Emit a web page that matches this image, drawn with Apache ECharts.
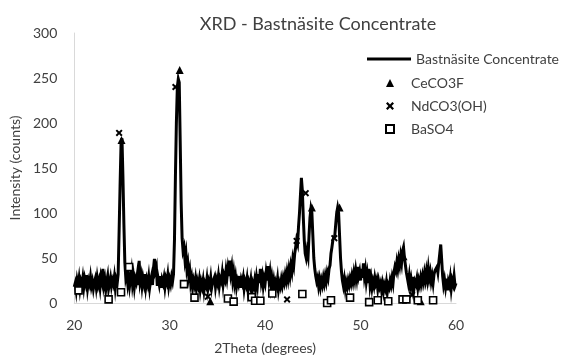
<!DOCTYPE html>
<html>
<head>
<meta charset="utf-8">
<title>XRD - Bastnäsite Concentrate</title>
<script src="https://cdn.jsdelivr.net/npm/echarts@6/dist/echarts.min.js"></script>
<style>
  html, body { margin: 0; padding: 0; background: #fff; }
  #chart { width: 570px; height: 360px; }
</style>
</head>
<body>
<div id="chart"></div>
<script>
// scan grid: 20.0 .. 60.0 deg, 0.1 deg step
const scanStart = 20;
const scanStep = 0.1;

// intensity (counts), one value per step
const intensity = [
  18, 22, 14, 25, 19, 27, 16, 24, 20, 28,   // 20
  18, 27, 22, 31, 17, 25, 21, 29, 19, 24,   // 21
  16, 23, 27, 18, 28, 20, 25, 17, 29, 24,   // 22
  38, 20, 26, 15, 24, 30, 16, 22, 28, 19,   // 23
  25, 21, 29, 17, 26, 22, 32, 80, 130, 176, // 24
  183, 140, 88, 45, 28, 33, 22, 30, 19, 27, // 25
  35, 21, 29, 18, 27, 23, 31, 20, 47, 24,   // 26
  30, 19, 28, 22, 32, 18, 26, 21, 29, 17,   // 27
  25, 30, 20, 38, 49, 36, 40, 19, 27, 21,   // 28
  30, 17, 26, 22, 28, 18, 27, 23, 31, 19,   // 29
  26, 21, 29, 24, 32, 70, 140, 200, 240, 249, // 30
  245, 180, 112, 72, 58, 62, 48, 55, 38, 44, // 31
  30, 36, 22, 28, 17, 25, 20, 27, 16, 24,   // 32
  19, 26, 15, 23, 18, 25, 14, 22, 19, 27,   // 33
  16, 24, 20, 28, 17, 23, 21, 29, 18, 26,   // 34
  22, 30, 19, 27, 24, 33, 21, 30, 26, 36,   // 35
  28, 38, 30, 47, 33, 40, 26, 34, 22, 29,   // 36
  18, 25, 21, 30, 17, 26, 22, 28, 16, 24,   // 37
  20, 27, 15, 23, 19, 26, 14, 22, 18, 25,   // 38
  17, 28, 20, 32, 22, 38, 24, 30, 19, 27,   // 39
  22, 33, 25, 41, 27, 34, 20, 28, 18, 25,   // 40
  16, 23, 19, 27, 15, 22, 18, 26, 20, 28,   // 41
  23, 31, 25, 34, 27, 37, 30, 41, 35, 48,   // 42
  42, 55, 62, 70, 66, 85, 100, 120, 139, 125, // 43
  95, 70, 55, 50, 58, 52, 75, 95, 105, 100, // 44
  75, 50, 38, 30, 24, 28, 19, 26, 18, 25,   // 45
  20, 28, 22, 30, 24, 33, 28, 38, 42, 55,   // 46
  62, 70, 68, 75, 88, 100, 106, 100, 75, 50, // 47
  35, 25, 19, 26, 16, 23, 18, 25, 20, 27,   // 48
  22, 30, 24, 33, 26, 36, 28, 40, 30, 35,   // 49
  25, 38, 28, 44, 30, 37, 24, 32, 22, 38,   // 50
  20, 27, 17, 24, 19, 28, 22, 26, 16, 24,   // 51
  18, 22, 14, 21, 13, 20, 16, 23, 12, 20,   // 52
  17, 25, 20, 28, 22, 34, 40, 36, 45, 38,   // 53
  48, 42, 52, 45, 58, 62, 50, 42, 34, 28,   // 54
  22, 30, 19, 26, 18, 29, 16, 24, 21, 27,   // 55
  17, 25, 20, 28, 22, 30, 24, 33, 26, 35,   // 56
  27, 38, 28, 34, 24, 30, 22, 32, 36, 36,   // 57
  40, 34, 45, 55, 65, 48, 30, 20, 26, 18,   // 58
  27, 14, 24, 20, 28, 16, 25, 21, 30, 19,   // 59
  22                                        // 60
];

// reference peak markers [2theta, counts]
const ceco3f = [
  [24.95, 181], [31.05, 259], [34.25, 2], [44.9, 106],
  [47.8, 106], [54.5, 52], [56.3, 2]
];
const ndco3oh = [
  [24.7, 189], [30.6, 240], [34.0, 7], [36.2, 38], [42.3, 4],
  [43.3, 69], [44.25, 122], [47.25, 72], [55.4, 9]
];
const baso4 = [
  [20.45, 14], [23.6, 4], [24.9, 12], [25.75, 40], [31.5, 21],
  [32.6, 6], [36.1, 5], [36.7, 1.5], [38.6, 6.5], [38.95, 2.5],
  [39.5, 2.5], [40.75, 10.5], [43.9, 10], [46.5, 0], [46.9, 3],
  [48.9, 6], [50.9, 1], [51.8, 3], [52.9, 2], [54.4, 4],
  [54.8, 4], [56.0, 3], [57.6, 3]
];

const scan = intensity.map((v, i) => [+(scanStart + i * scanStep).toFixed(1), v]);

// bold "x" as a filled outline
const crossPath = 'path://M0,2L2,0L5,3L8,0L10,2L7,5L10,8L8,10L5,7L2,10L0,8L3,5Z';
const font = 'Lato, "Open Sans", sans-serif';
const textColor = '#404040';

const chart = echarts.init(document.getElementById('chart'));
chart.setOption({
  animation: false,
  title: {
    text: 'XRD - Bastnäsite Concentrate',
    left: 313,
    top: 10,
    textAlign: 'center',
    textStyle: { fontFamily: font, fontSize: 18, fontWeight: 'normal', color: textColor }
  },
  legend: [
    {
      data: [{ name: 'Bastnäsite Concentrate', icon: 'rect' }],
      left: 362,
      top: 47,
      orient: 'vertical',
      itemWidth: 44,
      itemHeight: 3,
      textStyle: { fontFamily: font, fontSize: 14, color: textColor }
    },
    {
      data: ['CeCO3F', 'NdCO3(OH)', 'BaSO4'],
      left: 380,
      top: 71,
      orient: 'vertical',
      itemWidth: 8,
      itemHeight: 8,
      itemGap: 9,
      textStyle: { fontFamily: font, fontSize: 14, color: textColor, padding: [0, 0, 0, 12] }
    }
  ],
  grid: { left: 71, right: 114, top: 33, bottom: 52 },
  xAxis: {
    type: 'value',
    min: 20,
    max: 60,
    interval: 10,
    name: '2Theta (degrees)',
    nameLocation: 'middle',
    nameGap: 38,
    nameTextStyle: { fontFamily: font, fontSize: 14, color: textColor },
    axisLine: { lineStyle: { color: '#d9d9d9', width: 1 } },
    axisTick: { show: false },
    axisLabel: { fontFamily: font, fontSize: 14, color: textColor, margin: 15 },
    splitLine: { show: false }
  },
  yAxis: {
    type: 'value',
    min: 0,
    max: 300,
    interval: 50,
    name: 'Intensity (counts)',
    nameLocation: 'middle',
    nameGap: 50,
    nameTextStyle: { fontFamily: font, fontSize: 14, color: textColor },
    axisLine: { show: true, lineStyle: { color: '#d9d9d9', width: 1 } },
    axisTick: { show: false },
    axisLabel: { fontFamily: font, fontSize: 14, color: textColor, margin: 17 },
    splitLine: { show: false }
  },
  series: [
    {
      name: 'Bastnäsite Concentrate',
      type: 'line',
      data: scan,
      symbol: 'none',
      lineStyle: { color: '#000', width: 3, join: 'miter' },
      itemStyle: { color: '#000' },
      z: 2
    },
    {
      name: 'CeCO3F',
      type: 'scatter',
      data: ceco3f,
      symbol: 'triangle',
      symbolSize: 8,
      itemStyle: { color: '#000', opacity: 1 },
      z: 3
    },
    {
      name: 'NdCO3(OH)',
      type: 'scatter',
      data: ndco3oh,
      symbol: crossPath,
      symbolSize: 7,
      itemStyle: { color: '#000', opacity: 1 },
      z: 3
    },
    {
      name: 'BaSO4',
      type: 'scatter',
      data: baso4,
      symbol: 'rect',
      symbolSize: 7,
      itemStyle: { color: '#fff', borderColor: '#000', borderWidth: 1.6, opacity: 1 },
      z: 3
    }
  ]
});
</script>
</body>
</html>
